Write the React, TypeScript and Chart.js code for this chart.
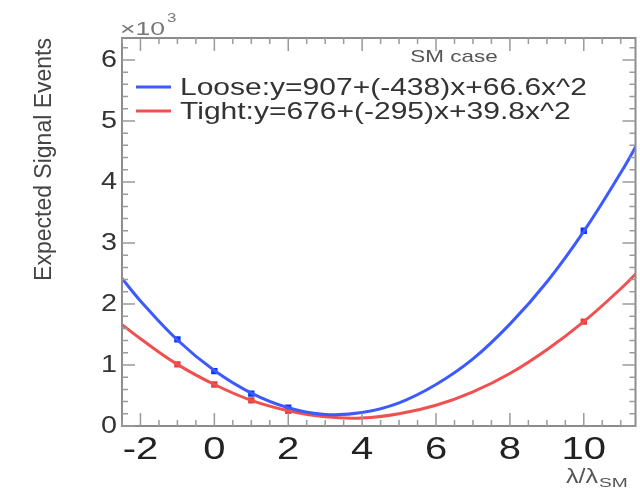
import React, { useEffect, useRef } from "react";
import { Chart, registerables } from "chart.js";

Chart.register(...registerables);

const xCurve = [-2.5, -2, -1, 0, 1, 2, 3, 4, 5, 6, 7, 8, 9, 10, 11, 11.5];
const looseCurve = [2.42, 2.05, 1.41, 0.91, 0.54, 0.3, 0.19, 0.22, 0.38, 0.68, 1.1, 1.67, 2.36, 3.19, 4.15, 4.68];
const tightCurve = [1.66, 1.43, 1.01, 0.68, 0.42, 0.25, 0.15, 0.13, 0.2, 0.34, 0.56, 0.86, 1.25, 1.71, 2.25, 2.55];

// Measured points
const xPoints = [-1, 0, 1, 2, 10];
const loosePoints = [1.42, 0.9, 0.53, 0.3, 3.2];
const tightPoints = [1.01, 0.68, 0.42, 0.25, 1.71];

const legendLabels = ["Loose:y=907+(-438)x+66.6x^2", "Tight:y=676+(-295)x+39.8x^2"];
const yTitle = "Expected Signal Events";
const boxTitle = "SM case";
const xMajor = [-2, 0, 2, 4, 6, 8, 10];
const yMajor = [0, 1, 2, 3, 4, 5, 6];

const BLUE = "rgb(60,90,255)";
const RED = "rgb(240,80,80)";
const FONT = "'Liberation Sans', Arial, sans-serif";
const SX = 1.25;

function fillStretched(ctx: any, text: string, x: number, y: number, align: string, sx: number) {
  const w = ctx.measureText(text).width * sx;
  const x0 = align === "left" ? x : align === "center" ? x - w / 2 : x - w;
  ctx.save();
  ctx.translate(x0, y);
  ctx.scale(sx, 1);
  ctx.textAlign = "left";
  ctx.fillText(text, 0, 0);
  ctx.restore();
  return w;
}

const overlay = {
  id: "overlay",
  afterDraw(chart: any) {
    const { ctx, chartArea } = chart;
    const { left, right, top, bottom } = chartArea;
    const xs = chart.scales.x;
    const ys = chart.scales.y;
    ctx.save();
    // frame
    ctx.strokeStyle = "#8c8c8c";
    ctx.lineWidth = 2;
    ctx.strokeRect(left, top, right - left, bottom - top);
    // ticks
    ctx.lineWidth = 1.5;
    ctx.strokeStyle = "#9a9a9a";
    const xmin = xs.min, xmax = xs.max;
    for (let v = -2.5; v <= xmax + 1e-9; v += 0.5) {
      if (v < xmin - 1e-9) continue;
      const px = xs.getPixelForValue(v);
      const major = Math.abs(v / 2 - Math.round(v / 2)) < 1e-6;
      const len = major ? 13 : 6;
      ctx.beginPath();
      ctx.moveTo(px, bottom);
      ctx.lineTo(px, bottom - len);
      ctx.moveTo(px, top);
      ctx.lineTo(px, top + len);
      ctx.stroke();
    }
    for (let v = 0; v <= ys.max + 1e-9; v += 0.2) {
      const py = ys.getPixelForValue(v);
      const major = Math.abs(v - Math.round(v)) < 1e-6;
      const len = major ? 13 : 6;
      ctx.beginPath();
      ctx.moveTo(left, py);
      ctx.lineTo(left + len, py);
      ctx.moveTo(right, py);
      ctx.lineTo(right - len, py);
      ctx.stroke();
    }
    // tick labels
    ctx.fillStyle = "#222";
    ctx.textBaseline = "alphabetic";
    ctx.font = `32px ${FONT}`;
    for (const v of xMajor) {
      fillStretched(ctx, String(v), xs.getPixelForValue(v), 459, "center", SX);
    }
    ctx.fillStyle = "#333";
    ctx.textBaseline = "middle";
    ctx.font = `23px ${FONT}`;
    for (const v of yMajor) {
      fillStretched(ctx, String(v), 117, ys.getPixelForValue(v) + 1, "right", SX);
    }
    // x10^3
    ctx.fillStyle = "#777";
    ctx.textBaseline = "alphabetic";
    ctx.font = `19px ${FONT}`;
    const w = fillStretched(ctx, "\u00d710", left - 2, top - 3, "left", 1.4);
    ctx.font = `13px ${FONT}`;
    fillStretched(ctx, "3", left - 2 + w + 2, top - 16, "left", 1.3);
    // SM case
    ctx.fillStyle = "#555";
    ctx.font = `17px ${FONT}`;
    ctx.textBaseline = "middle";
    fillStretched(ctx, boxTitle, 454, 57, "center", 1.32);
    // legend
    const colors = [BLUE, RED];
    const ly = [87, 111];
    ctx.font = `24px ${FONT}`;
    for (let i = 0; i < legendLabels.length; i++) {
      ctx.strokeStyle = colors[i];
      ctx.lineWidth = 3;
      ctx.beginPath();
      ctx.moveTo(136, ly[i]);
      ctx.lineTo(171, ly[i]);
      ctx.stroke();
      ctx.fillStyle = "#333";
      fillStretched(ctx, legendLabels[i], 180, ly[i] + 1, "left", SX);
    }
    // x title
    ctx.fillStyle = "#555";
    ctx.textBaseline = "alphabetic";
    ctx.font = `20px ${FONT}`;
    const w2 = fillStretched(ctx, "\u03bb/\u03bb", 566, 483, "left", SX);
    ctx.font = `12px ${FONT}`;
    fillStretched(ctx, "SM", 566 + w2 + 1, 487, "left", 1.6);
    ctx.restore();
  },
};

export default function App() {
  const ref = useRef<HTMLCanvasElement>(null);
  useEffect(() => {
    if (!ref.current) return;
    const chart = new Chart(ref.current, {
      type: "line",
      data: {
        datasets: [
          {
            label: legendLabels[0],
            data: xCurve.map((x, i) => ({ x, y: looseCurve[i] })),
            borderColor: BLUE,
            borderWidth: 3,
            pointRadius: 0,
            tension: 0.4,
            fill: false,
          },
          {
            label: legendLabels[1],
            data: xCurve.map((x, i) => ({ x, y: tightCurve[i] })),
            borderColor: RED,
            borderWidth: 3,
            pointRadius: 0,
            tension: 0.4,
            fill: false,
          },
          {
            label: "Tight points",
            data: xPoints.map((x, i) => ({ x, y: tightPoints[i] })),
            showLine: false,
            pointStyle: "rect",
            pointRadius: 4.5,
            pointBackgroundColor: "rgb(230,60,60)",
            pointBorderWidth: 0,
          },
          {
            label: "Loose points",
            data: xPoints.map((x, i) => ({ x, y: loosePoints[i] })),
            showLine: false,
            pointStyle: "rect",
            pointRadius: 4.5,
            pointBackgroundColor: "rgb(10,50,255)",
            pointBorderWidth: 0,
          },
        ],
      },
      options: {
        animation: false,
        responsive: false,
        maintainAspectRatio: false,
        layout: { padding: { top: 38, right: 4, left: 0, bottom: 0 } },
        plugins: { legend: { display: false }, tooltip: { enabled: false } },
        scales: {
          x: {
            type: "linear",
            min: -2.5,
            max: 11.4,
            grid: { display: false, drawTicks: false },
            border: { display: false },
            afterFit: (s: any) => {
              s.height = 63;
            },
            afterBuildTicks: (s: any) => {
              s.ticks = xMajor.map((v) => ({ value: v }));
            },
            ticks: { display: false },
          },
          y: {
            type: "linear",
            min: 0,
            max: 6.36,
            grid: { display: false, drawTicks: false },
            border: { display: false },
            afterFit: (s: any) => {
              s.width = 122;
            },
            afterBuildTicks: (s: any) => {
              s.ticks = yMajor.map((v) => ({ value: v }));
            },
            ticks: { display: false },
            title: {
              display: true,
              text: yTitle,
              align: "end",
              color: "#444",
              font: { family: FONT, size: 23 },
              padding: { top: 31, bottom: 0 },
            },
          },
        },
      },
      plugins: [overlay],
    } as any);
    return () => chart.destroy();
  }, []);
  return (
    <div style={{ position: "fixed", left: 0, top: 0, width: 640, height: 489, background: "#fff" }}>
      <canvas ref={ref} width={640} height={489} style={{ width: 640, height: 489 }} />
    </div>
  );
}
